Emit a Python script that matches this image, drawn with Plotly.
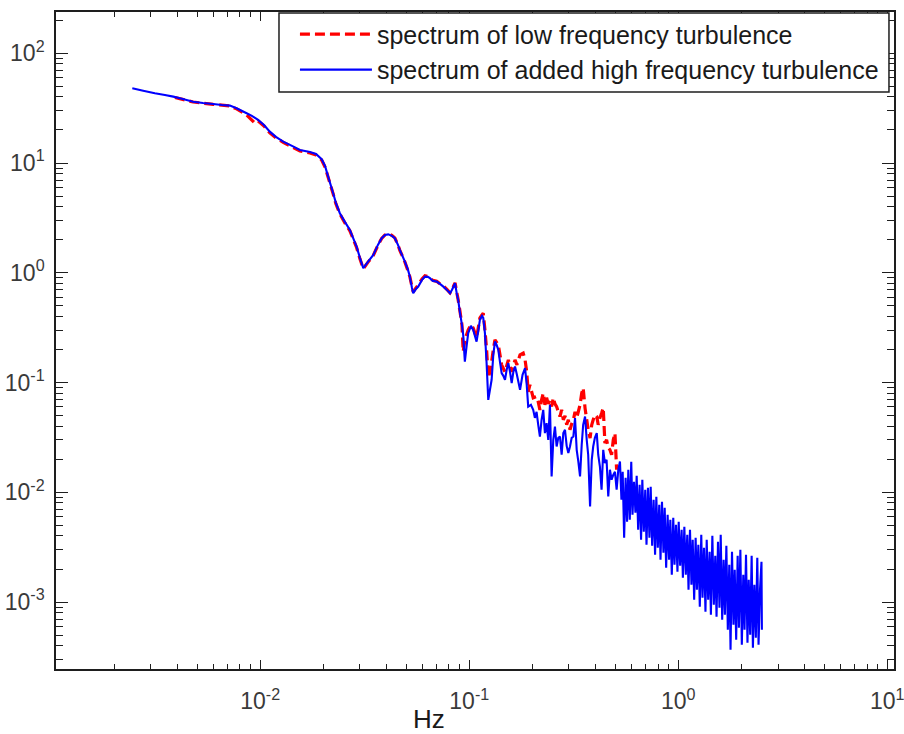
import numpy as np
import plotly.graph_objects as go

# Spectra are listed as base-10 exponents: log10(frequency / Hz) and log10(spectral level)

# spectrum of low frequency turbulence
low_log_freq = [
    -2.408, -2.321, -2.225, -2.145, -2.113, -2.065, -2.025, -2.010, -1.982, -1.954,
    -1.925, -1.890, -1.848, -1.810, -1.762, -1.733, -1.706, -1.690, -1.675, -1.651,
    -1.638, -1.619, -1.595, -1.571, -1.539, -1.523, -1.507, -1.485, -1.459, -1.437,
    -1.419, -1.403, -1.388, -1.370, -1.356, -1.341, -1.332, -1.308, -1.293, -1.284,
    -1.274, -1.268, -1.255, -1.244, -1.226, -1.212, -1.198, -1.188, -1.174, -1.156,
    -1.140, -1.124, -1.107, -1.092, -1.083, -1.068, -1.060, -1.053, -1.044, -1.035,
    -1.029, -1.021, -1.005, -0.992, -0.981, -0.965, -0.949, -0.933, -0.925, -0.917,
    -0.909, -0.901, -0.893, -0.885, -0.877, -0.861, -0.853, -0.845, -0.829, -0.813,
    -0.797, -0.781, -0.772, -0.757, -0.742, -0.733, -0.725, -0.718, -0.710, -0.694,
    -0.678, -0.670, -0.662, -0.654, -0.646, -0.638, -0.630, -0.622, -0.614, -0.606,
    -0.598, -0.590, -0.582, -0.574, -0.566, -0.558, -0.550, -0.542, -0.534, -0.526,
    -0.518, -0.510, -0.502, -0.494, -0.486, -0.478, -0.470, -0.462, -0.455, -0.446,
    -0.438, -0.431, -0.422, -0.414, -0.407, -0.399, -0.390, -0.383, -0.375, -0.367,
    -0.359, -0.351, -0.343, -0.335, -0.327, -0.319, -0.311, -0.303, -0.295,
]
low_log_psd = [
    1.597, 1.556, 1.534, 1.520, 1.493, 1.438, 1.362, 1.383, 1.338, 1.274,
    1.229, 1.188, 1.147, 1.110, 1.092, 1.074, 1.028, 0.964, 0.869, 0.719,
    0.628, 0.536, 0.454, 0.382, 0.231, 0.127, 0.036, 0.095, 0.158, 0.250,
    0.313, 0.345, 0.354, 0.341, 0.318, 0.254, 0.204, 0.099, 0.017, -0.037,
    -0.128, -0.174, -0.138, -0.110, -0.056, -0.028, -0.033, -0.046, -0.069, -0.078,
    -0.101, -0.119, -0.151, -0.183, -0.156, -0.092, -0.174, -0.247, -0.356, -0.474,
    -0.718, -0.611, -0.520, -0.474, -0.502, -0.593, -0.411, -0.368, -0.520, -0.702,
    -0.957, -0.903, -0.811, -0.702, -0.611, -0.657, -0.748, -0.839, -0.903, -0.793,
    -0.903, -0.793, -0.839, -0.748, -0.732, -0.793, -0.903, -1.085, -1.021, -1.139,
    -1.128, -1.176, -1.249, -1.158, -1.097, -1.203, -1.139, -1.194, -1.158, -1.219,
    -1.139, -1.194, -1.219, -1.267, -1.310, -1.249, -1.340, -1.303, -1.385, -1.340,
    -1.431, -1.376, -1.340, -1.267, -1.322, -1.264, -1.203, -1.097, -1.048, -1.233,
    -1.340, -1.431, -1.506, -1.385, -1.340, -1.294, -1.310, -1.385, -1.322, -1.279,
    -1.230, -1.552, -1.522, -1.595, -1.613, -1.658, -1.522, -1.461, -1.795,
]

# spectrum of added high frequency turbulence
high_log_freq = [
    -2.612, -2.560, -2.504, -2.456, -2.416, -2.370, -2.321, -2.274, -2.225, -2.183,
    -2.145, -2.113, -2.065, -2.040, -2.010, -1.982, -1.954, -1.925, -1.890, -1.848,
    -1.810, -1.762, -1.733, -1.706, -1.690, -1.675, -1.651, -1.638, -1.619, -1.595,
    -1.571, -1.539, -1.523, -1.507, -1.485, -1.459, -1.437, -1.419, -1.403, -1.388,
    -1.370, -1.356, -1.341, -1.332, -1.308, -1.293, -1.284, -1.274, -1.268, -1.255,
    -1.244, -1.226, -1.212, -1.198, -1.188, -1.174, -1.156, -1.140, -1.124, -1.107,
    -1.092, -1.083, -1.068, -1.060, -1.053, -1.044, -1.035, -1.029, -1.021, -1.012,
    -1.005, -0.992, -0.981, -0.965, -0.956, -0.949, -0.939, -0.933, -0.925, -0.917,
    -0.909, -0.901, -0.893, -0.885, -0.877, -0.869, -0.861, -0.853, -0.845, -0.837,
    -0.829, -0.821, -0.813, -0.805, -0.797, -0.789, -0.781, -0.772, -0.757, -0.745,
    -0.733, -0.725, -0.718, -0.705, -0.694, -0.686, -0.678, -0.670, -0.662, -0.654,
    -0.646, -0.638, -0.630, -0.622, -0.614, -0.606, -0.598, -0.590, -0.582, -0.574,
    -0.566, -0.558, -0.550, -0.542, -0.534, -0.526, -0.518, -0.510, -0.502, -0.494,
    -0.486, -0.478, -0.470, -0.462, -0.455, -0.446, -0.438, -0.431, -0.422, -0.414,
    -0.407, -0.399, -0.390, -0.383, -0.375, -0.367, -0.359, -0.351, -0.343, -0.335,
    -0.327, -0.319, -0.311, -0.303, -0.295, -0.287, -0.279,
    -0.272, -0.266, -0.259, -0.252, -0.245, -0.239, -0.232, -0.225, -0.219, -0.212,
    -0.205, -0.199, -0.192, -0.185, -0.178, -0.172, -0.165, -0.158, -0.152, -0.145,
    -0.138, -0.132, -0.125, -0.118, -0.111, -0.105, -0.098, -0.091, -0.085, -0.078,
    -0.071, -0.065, -0.058, -0.051, -0.044, -0.038, -0.031, -0.024, -0.018, -0.011,
    -0.004, 0.002, 0.009, 0.016, 0.022, 0.029, 0.036, 0.043, 0.049, 0.056,
    0.063, 0.069, 0.076, 0.083, 0.089, 0.096, 0.103, 0.110, 0.116, 0.123,
    0.130, 0.136, 0.143, 0.150, 0.156, 0.163, 0.170, 0.177, 0.183, 0.190,
    0.197, 0.203, 0.210, 0.217, 0.223, 0.230, 0.237, 0.244, 0.250, 0.257,
    0.264, 0.270, 0.277, 0.284, 0.290, 0.297, 0.304, 0.311, 0.317, 0.324,
    0.331, 0.337, 0.344, 0.351, 0.357, 0.364, 0.371, 0.378, 0.384, 0.391,
    0.398, 0.400,
]
high_log_psd = [
    1.681, 1.659, 1.636, 1.620, 1.605, 1.584, 1.559, 1.547, 1.538, 1.529,
    1.523, 1.499, 1.454, 1.429, 1.393, 1.347, 1.286, 1.238, 1.195, 1.156,
    1.119, 1.101, 1.083, 1.035, 0.974, 0.876, 0.725, 0.637, 0.543, 0.464,
    0.391, 0.239, 0.136, 0.042, 0.099, 0.163, 0.254, 0.315, 0.345, 0.350,
    0.336, 0.315, 0.254, 0.209, 0.102, 0.026, -0.035, -0.138, -0.186, -0.147,
    -0.126, -0.065, -0.035, -0.037, -0.049, -0.074, -0.080, -0.101, -0.126, -0.156,
    -0.186, -0.156, -0.095, -0.186, -0.247, -0.368, -0.474, -0.566, -0.809, -0.657,
    -0.550, -0.484, -0.520, -0.627, -0.520, -0.429, -0.393, -0.411, -0.550, -0.823,
    -1.158, -1.066, -0.975, -0.748, -0.627, -0.657, -0.702, -0.811, -0.914, -0.939,
    -0.975, -0.884, -0.823, -0.903, -1.005, -0.903, -0.854, -0.930, -1.066, -0.930,
    -0.869, -1.021, -1.219, -1.203, -1.249, -1.322, -1.267, -1.385, -1.492, -1.340,
    -1.249, -1.461, -1.370, -1.522, -1.203, -1.856, -1.522, -1.401, -1.583, -1.504,
    -1.492, -1.658, -1.461, -1.431, -1.577, -1.643, -1.583, -1.504, -1.492, -1.324,
    -1.613, -1.722, -1.856, -1.567, -1.385, -1.310, -1.522, -1.658, -2.129, -1.704,
    -1.583, -1.504, -1.461, -1.658, -1.765, -1.977, -1.613, -1.734, -1.704, -2.038,
    -1.795, -1.886, -1.841, -1.813, -1.977, -1.795, -1.720,
    -2.068, -1.813, -2.414, -1.868, -2.269, -1.795, -2.250, -1.722, -2.205, -1.904,
    -2.187, -1.850, -2.342, -1.932, -2.433, -1.886, -2.360, -1.977, -2.478, -1.959,
    -2.414, -1.950, -2.487, -2.068, -2.569, -2.041, -2.505, -2.114, -2.615, -2.087,
    -2.551, -2.141, -2.688, -2.205, -2.615, -2.250, -2.751, -2.232, -2.660, -2.296,
    -2.724, -2.269, -2.669, -2.342, -2.779, -2.314, -2.751, -2.387, -2.888, -2.342,
    -2.842, -2.433, -2.979, -2.414, -2.888, -2.478, -3.043, -2.387, -2.961, -2.505,
    -3.088, -2.433, -2.979, -2.542, -3.116, -2.396, -3.025, -2.578, -3.134, -2.451,
    -3.052, -2.387, -3.161, -2.615, -3.116, -2.487, -3.252, -2.660, -3.434, -2.542,
    -3.207, -2.706, -3.343, -2.578, -3.234, -2.524, -3.389, -2.751, -3.252, -2.569,
    -3.371, -2.797, -3.298, -2.578, -3.416, -2.842, -3.325, -2.597, -3.389, -2.888,
    -2.633, -3.252,
]

series_names = [
    "spectrum of low frequency turbulence",
    "spectrum of added high frequency turbulence",
]

x_tick_vals = [1e-2, 1e-1, 1e0, 1e1]
x_tick_text = ["10<sup>-2</sup>", "10<sup>-1</sup>", "10<sup>0</sup>", "10<sup>1</sup>"]
y_tick_vals = [1e-3, 1e-2, 1e-1, 1e0, 1e1, 1e2]
y_tick_text = ["10<sup>-3</sup>", "10<sup>-2</sup>", "10<sup>-1</sup>",
               "10<sup>0</sup>", "10<sup>1</sup>", "10<sup>2</sup>"]
x_label = "Hz"

FONT = "Liberation Sans, Arial, sans-serif"
INK = "#1e1e1e"

# 2..9 x 10^k minor tick positions
minor_vals = [m * 10.0 ** e for e in range(-4, 3) for m in range(2, 10)]

fig = go.Figure()
fig.add_trace(go.Scatter(
    x=10.0 ** np.array(low_log_freq), y=10.0 ** np.array(low_log_psd),
    mode="lines", name=series_names[0], legendgroup="low",
    line=dict(color="#ff0000", width=3.2, dash="10px,5px", simplify=False),
))
fig.add_trace(go.Scatter(
    x=10.0 ** np.array(high_log_freq), y=10.0 ** np.array(high_log_psd),
    mode="lines", name=series_names[1], legendgroup="high",
    line=dict(color="#0000ff", width=2.1, simplify=False),
))

axis_style = dict(
    type="log", showgrid=False, zeroline=False,
    automargin=False, ticklabeloverflow="allow",
    showline=True, linecolor=INK, linewidth=1.6, mirror="allticks",
    ticks="inside", tickcolor=INK, tickwidth=1.3,
    tickmode="array",
    tickfont=dict(family=FONT, size=23, color="#3a3a3a"),
)

fig.update_xaxes(
    **axis_style, range=[-2.977, 1.032],
    tickvals=x_tick_vals, ticktext=x_tick_text, ticklen=9,
    ticklabelstandoff=11,
    minor=dict(tickvals=minor_vals, ticks="inside", ticklen=5,
               tickcolor=INK, tickwidth=1.2, showgrid=False),
)
fig.update_yaxes(
    **axis_style, range=[-3.61, 2.376],
    tickvals=y_tick_vals, ticktext=y_tick_text, ticklen=12,
    ticklabelstandoff=5,
    minor=dict(tickvals=minor_vals, ticks="inside", ticklen=7,
               tickcolor=INK, tickwidth=1.2, showgrid=False),
)

fig.add_annotation(
    text=x_label, xref="paper", yref="paper", x=0.445, y=-0.076,
    xanchor="center", yanchor="middle", showarrow=False,
    font=dict(family=FONT, size=26, color="#1a1a1a"),
)

# framed key box behind the legend entries
fig.add_shape(
    type="rect", xref="paper", yref="paper",
    x0=0.2661, x1=0.9940, y0=0.8782, y1=0.9985,
    line=dict(color=INK, width=1.5), fillcolor="white", layer="above",
)

fig.update_layout(
    width=904, height=734,
    margin=dict(l=56, r=10, t=12, b=65, autoexpand=False),
    paper_bgcolor="white", plot_bgcolor="white",
    showlegend=True,
    legend=dict(
        x=0.988, y=1.001, xanchor="right", yanchor="top",
        bgcolor="rgba(0,0,0,0)", borderwidth=0,
        font=dict(family=FONT, size=25, color="#1a1a1a"),
        itemwidth=72, tracegroupgap=0,
    ),
)

fig.write_html("out.html")
